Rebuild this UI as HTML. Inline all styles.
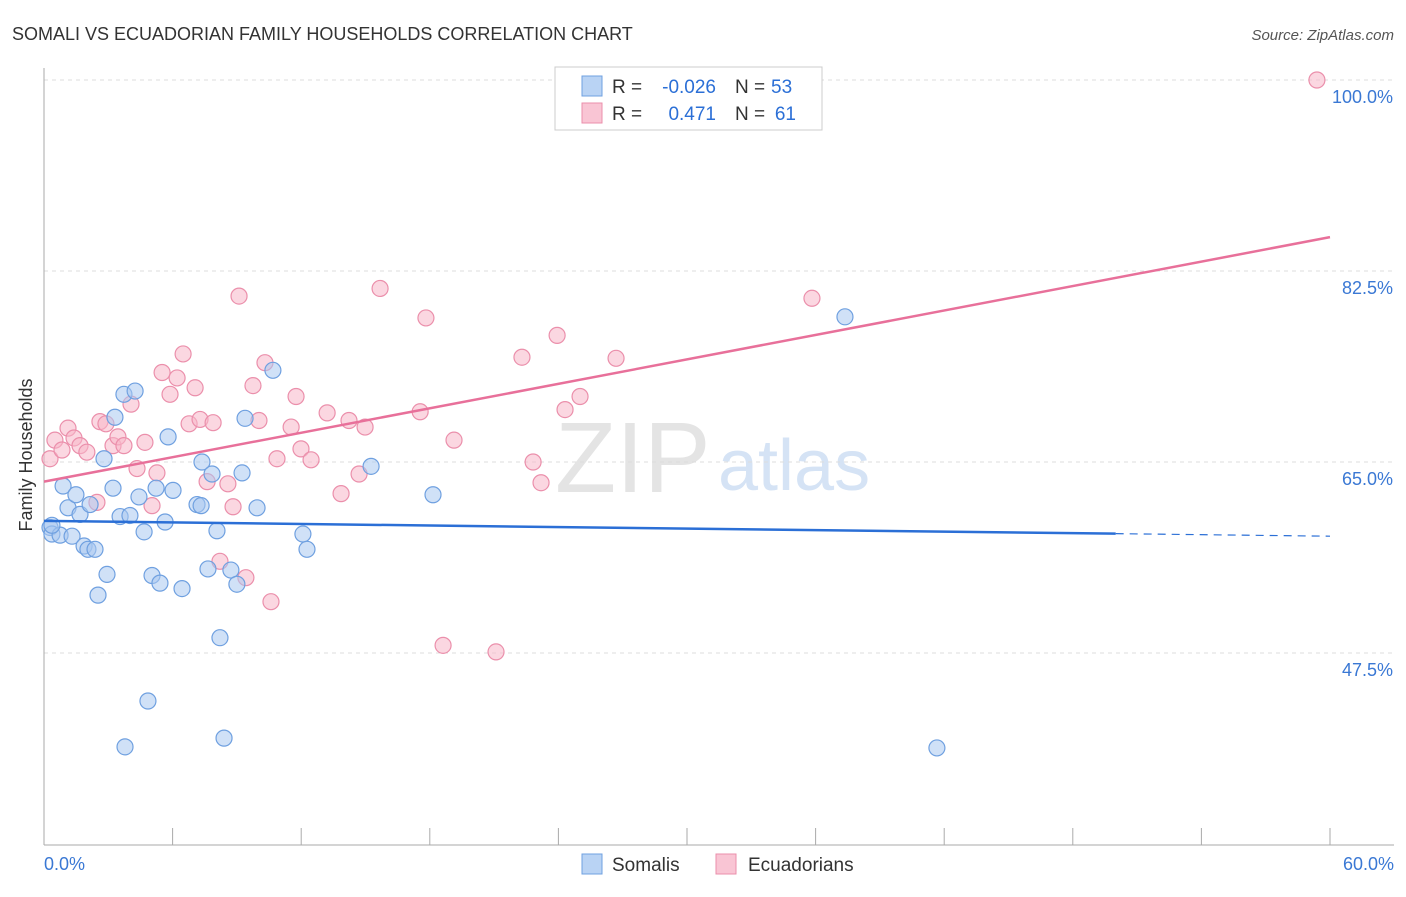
<!DOCTYPE html>
<html><head><meta charset="utf-8"><style>
body{margin:0;background:#fff;font-family:"Liberation Sans",sans-serif}
svg text{font-family:"Liberation Sans",sans-serif}
</style></head><body>
<svg id="c" width="1406" height="892">
<text x="12" y="40" font-size="18" fill="#333">SOMALI VS ECUADORIAN FAMILY HOUSEHOLDS CORRELATION CHART</text>
<text x="1394" y="40" font-size="15" fill="#555" font-style="italic" text-anchor="end">Source: ZipAtlas.com</text>
<text x="32" y="455" font-size="18" fill="#333" transform="rotate(-90 32 455)" text-anchor="middle">Family Households</text>
<text x="555" y="492" font-size="100" fill="#e4e4e4" font-family="Liberation Serif">ZIP</text>
<text x="718" y="490" font-size="72" fill="#d5e3f5">atlas</text>
<g id="grid"></g><g id="marks"></g>
<g>
<rect x="555" y="67" width="267" height="63" fill="#fff" stroke="#ccc"/>
<rect x="582" y="76" width="20" height="20" fill="#b9d3f4" stroke="#6fa0e0"/>
<rect x="582" y="103" width="20" height="20" fill="#f9c5d4" stroke="#eb8fab"/>
<text x="612" y="93" font-size="19" fill="#333">R =</text>
<text x="716" y="93" font-size="19" fill="#2b6fd6" text-anchor="end">-0.026</text>
<text x="735" y="93" font-size="19" fill="#333">N =</text>
<text x="771" y="93" font-size="19" fill="#2b6fd6">53</text>
<text x="612" y="120" font-size="19" fill="#333">R =</text>
<text x="716" y="120" font-size="19" fill="#2b6fd6" text-anchor="end">0.471</text>
<text x="735" y="120" font-size="19" fill="#333">N =</text>
<text x="796" y="120" font-size="19" fill="#2b6fd6" text-anchor="end">61</text>
</g>
<g>
<rect x="582" y="854" width="20" height="20" fill="#b9d3f4" stroke="#6fa0e0"/>
<text x="612" y="871" font-size="19" fill="#333">Somalis</text>
<rect x="716" y="854" width="20" height="20" fill="#f9c5d4" stroke="#eb8fab"/>
<text x="748" y="871" font-size="19" fill="#333">Ecuadorians</text>
</g>
</svg>
<script>
const xTicks=[0,6,12,18,24,30,36,42,48,54,60];
const yTicks=[47.5,65,82.5,100];
const blueX=[0.28,0.37,0.75,1.31,0.89,1.12,1.49,1.68,2.15,1.87,2.05,2.38,2.94,2.52,2.80,3.22,3.31,3.55,3.73,4.01,4.25,4.43,4.67,5.23,5.04,5.41,5.65,5.79,6.02,6.44,7.14,7.33,7.37,7.65,7.84,8.07,8.21,8.72,9.00,9.24,9.38,9.94,10.68,12.08,12.27,15.26,18.15,37.37,41.66,3.78,4.85,8.40,0.37];
const blueY=[59.0,58.4,58.3,58.2,62.8,60.8,62.0,60.2,61.1,57.3,57.0,57.0,54.7,52.8,65.3,62.6,69.1,60.0,71.2,60.1,71.5,61.8,58.6,62.6,54.6,53.9,59.5,67.3,62.4,53.4,61.1,61.0,65.0,55.2,63.9,58.7,48.9,55.1,53.8,64.0,69.0,60.8,73.4,58.4,57.0,64.6,62.0,78.3,38.8,38.9,43.1,39.7,59.2];
const pinkX=[0.28,0.51,0.84,1.12,1.40,1.68,2.00,2.47,2.61,2.89,3.22,3.45,3.73,4.06,4.34,4.71,5.04,5.27,5.51,5.88,6.21,6.49,6.77,7.05,7.28,7.61,7.89,8.21,8.58,8.82,9.10,9.42,9.75,10.03,10.31,10.59,10.87,11.53,11.76,11.99,12.46,13.21,13.86,14.23,14.70,14.98,15.68,17.55,17.82,18.62,19.13,21.09,22.30,22.82,23.19,23.94,24.31,25.01,26.69,35.83,59.39];
const pinkY=[65.3,67.0,66.1,68.1,67.2,66.5,65.9,61.3,68.7,68.5,66.5,67.3,66.5,70.3,64.4,66.8,61.0,64.0,73.2,71.2,72.7,74.9,68.5,71.8,68.9,63.2,68.6,55.9,63.0,60.9,80.2,54.4,72.0,68.8,74.1,52.2,65.3,68.2,71.0,66.2,65.2,69.5,62.1,68.8,63.9,68.2,80.9,69.6,78.2,48.2,67.0,47.6,74.6,65.0,63.1,76.6,69.8,71.0,74.5,80.0,100.0];
const blueLine=[59.6,58.2]; const pinkLine=[63.2,85.6]; const blueSolidEnd=50;
const X=v=>44+v/60*1286, Y=v=>80+(100-v)*10.914;
const ns="http://www.w3.org/2000/svg";
function mk(t,a,p){const e=document.createElementNS(ns,t);for(const k in a)e.setAttribute(k,a[k]);p.appendChild(e);return e;}
const g=document.getElementById('grid'),m=document.getElementById('marks');
yTicks.forEach(t=>{
const l=mk('line',{x1:44,x2:1394,y1:Y(t),y2:Y(t),stroke:'#ddd','stroke-dasharray':'4,4'},g);


const tx=mk('text',{x:1393,y:Y(t)+23,'font-size':18,fill:'#3a78d4','text-anchor':'end'},g);tx.textContent=t.toFixed(1)+'%';


});
mk('line',{x1:44,x2:44,y1:68,y2:845,stroke:'#aaa'},g);
mk('line',{x1:44,x2:1394,y1:845,y2:845,stroke:'#aaa'},g);
xTicks.forEach(t=>{const l=mk('line',{x1:X(t),x2:X(t),y1:828,y2:845,stroke:'#aaa'},g);

});
[[0,'start',44],[60,'end',1394]].forEach(([t,a,x])=>{const tx=mk('text',{x:x,y:870,'font-size':18,fill:'#3a78d4','text-anchor':a},g);tx.textContent=t.toFixed(1)+'%';

});
function pts(xs,ys,f,s,n){xs.forEach((x,i)=>{const c=mk('circle',{cx:X(x),cy:Y(ys[i]),r:8,fill:f,'fill-opacity':0.55,stroke:s,'stroke-width':1.2},m);

});}
pts(pinkX,pinkY,'#f7b6c8','#eb8fab','ecuadorian-point');
pts(blueX,blueY,'#a9c8f0','#6fa0e0','somali-point');
const bAt=v=>blueLine[0]+(blueLine[1]-blueLine[0])*v/60;
let l=mk('line',{x1:X(0),y1:Y(bAt(0)),x2:X(blueSolidEnd),y2:Y(bAt(blueSolidEnd)),stroke:'#2b6fd6','stroke-width':2.5},m);


l=mk('line',{x1:X(blueSolidEnd),y1:Y(bAt(blueSolidEnd)),x2:X(60),y2:Y(bAt(60)),stroke:'#2b6fd6','stroke-width':1.2,'stroke-dasharray':'8,6'},m);


l=mk('line',{x1:X(0),y1:Y(pinkLine[0]),x2:X(60),y2:Y(pinkLine[1]),stroke:'#e8709a','stroke-width':2.5},m);


</script>
</body></html>
